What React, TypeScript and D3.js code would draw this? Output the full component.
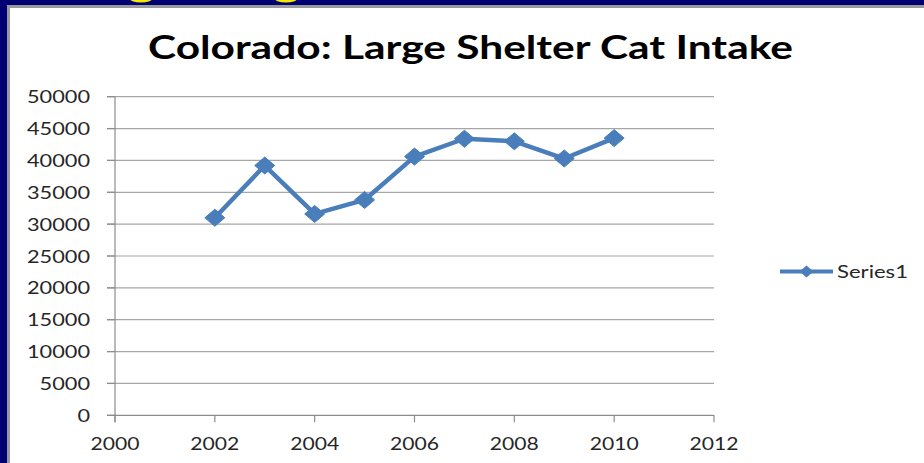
import React from "react";
import * as d3 from "d3";

const years = [2002, 2003, 2004, 2005, 2006, 2007, 2008, 2009, 2010];
const intake = [31000, 39200, 31600, 33800, 40600, 43400, 43000, 40300, 43500];
const yTicks = [0, 5000, 10000, 15000, 20000, 25000, 30000, 35000, 40000, 45000, 50000];
const xTicks = [2000, 2002, 2004, 2006, 2008, 2010, 2012];
const seriesName = "Series1";
const title = "Colorado: Large Shelter Cat Intake";

const W = 924;
const H = 463;
const BLUE = "#4a7ebb";
const FONT = "Lato, 'Open Sans', sans-serif";

export default function App() {
  const x = d3.scaleLinear().domain([2000, 2012]).range([115, 714]);
  const y = d3.scaleLinear().domain([0, 50000]).range([415.3, 96.7]);
  const line = d3
    .line<number>()
    .x((_, i) => x(years[i]))
    .y((d) => y(d));
  const diamond = (cx: number, cy: number, hw: number, hh: number) =>
    `M${cx},${cy - hh}L${cx + hw},${cy}L${cx},${cy + hh}L${cx - hw},${cy}Z`;

  return (
    <svg
      width={W}
      height={H}
      style={{ position: "absolute", left: 0, top: 0, display: "block" }}
    >
      <rect x={0} y={0} width={W} height={H} fill="#000074" />
      <ellipse cx={141} cy={-1} rx={11} ry={3.5} fill="#f5e800" />
      <ellipse cx={286} cy={-1} rx={11} ry={3.5} fill="#f5e800" />
      <rect x={7} y={5} width={W - 7} height={H - 5} fill="#999999" />
      <rect x={10} y={8} width={W - 10} height={H - 8} fill="#ffffff" />

      <text
        x={148}
        y={59}
        fontFamily={FONT}
        fontWeight={700}
        fontSize={33}
        fill="#000"
        textLength={645}
        lengthAdjust="spacingAndGlyphs"
      >
        {title}
      </text>

      {/* gridlines */}
      {yTicks.slice(1).map((t) => (
        <line key={t} x1={107} x2={714} y1={y(t)} y2={y(t)} stroke="#a6a6a6" strokeWidth={1.2} />
      ))}
      {/* axes */}
      <line x1={107} x2={714} y1={y(0)} y2={y(0)} stroke="#8c8c8c" strokeWidth={1.2} />
      <line x1={115} x2={115} y1={y(50000)} y2={y(0) + 7} stroke="#8c8c8c" strokeWidth={1.2} />
      {xTicks.map((t) => (
        <line key={t} x1={x(t)} x2={x(t)} y1={y(0)} y2={y(0) + 7} stroke="#8c8c8c" strokeWidth={1.2} />
      ))}
      {yTicks.map((t) => (
        <line key={"yt" + t} x1={107} x2={115} y1={y(t)} y2={y(t)} stroke="#8c8c8c" strokeWidth={1.2} />
      ))}

      {/* y labels */}
      {yTicks.map((t) => {
        const s = String(t);
        return (
          <text
            key={"yl" + t}
            x={90}
            y={y(t) + 6.5}
            textAnchor="end"
            fontFamily={FONT}
            fontSize={18}
            fill="#262626"
            textLength={s.length * 12.6}
            lengthAdjust="spacingAndGlyphs"
          >
            {s}
          </text>
        );
      })}
      {/* x labels */}
      {xTicks.map((t) => (
        <text
          key={"xl" + t}
          x={x(t)}
          y={450}
          textAnchor="middle"
          fontFamily={FONT}
          fontSize={18}
          fill="#262626"
          textLength={49}
          lengthAdjust="spacingAndGlyphs"
        >
          {t}
        </text>
      ))}

      {/* series */}
      <path d={line(intake) ?? ""} fill="none" stroke={BLUE} strokeWidth={4.5} strokeLinejoin="round" />
      {intake.map((v, i) => (
        <path key={"m" + i} d={diamond(x(years[i]), y(v), 10, 8.5)} fill={BLUE} stroke={BLUE} strokeWidth={1} />
      ))}

      {/* legend */}
      <line x1={780} x2={833} y1={271.5} y2={271.5} stroke={BLUE} strokeWidth={4} />
      <path d={diamond(806.5, 271.5, 7, 6)} fill={BLUE} />
      <text
        x={837}
        y={278}
        fontFamily={FONT}
        fontSize={18}
        fill="#262626"
        textLength={71}
        lengthAdjust="spacingAndGlyphs"
      >
        {seriesName}
      </text>
    </svg>
  );
}
